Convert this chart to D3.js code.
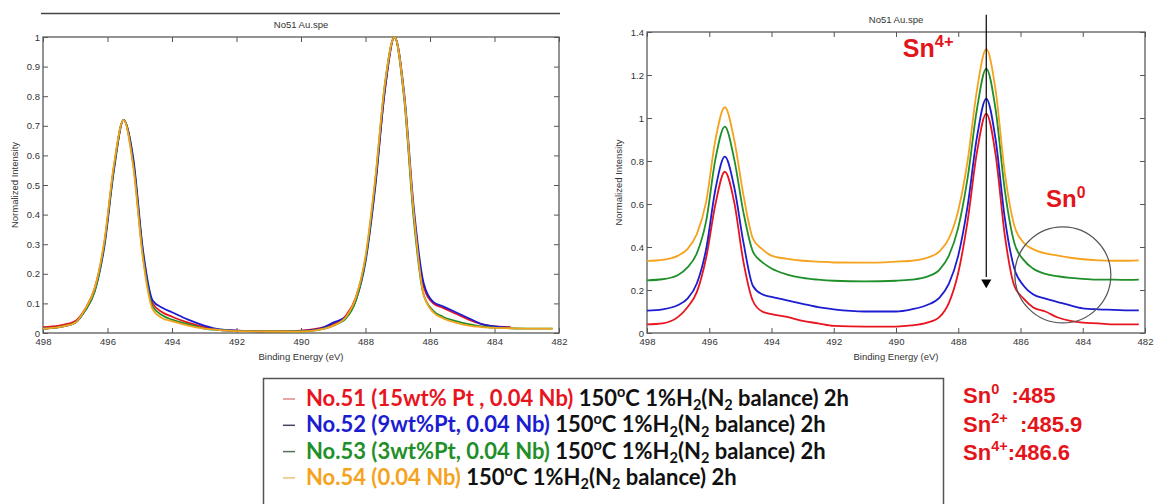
<!DOCTYPE html>
<html>
<head>
<meta charset="utf-8">
<script src="https://cdn.jsdelivr.net/npm/d3@7"></script>
<style>
  body { margin: 0; background: #fff; }
  svg text { font-family: "Liberation Sans", Arial, sans-serif; }
  .tick text { font-size: 9.5px; fill: #333; }
  .tick line { stroke: #555; }
</style>
</head>
<body>
<script>

// binding energy grid (eV), shared by every series
var energy = [498, 497.5, 497, 496.7, 496.4, 496.1, 495.8, 495.5, 495.2, 494.9,
  494.6, 494.3, 494, 493.5, 493, 492.5, 492, 491, 490, 489.5,
  489, 488.6, 488.3, 488, 487.7, 487.4, 487.1, 486.8, 486.5, 486.2,
  485.9, 485.6, 485.2, 484.8, 484.4, 484, 483.5, 483, 482.5, 482.2];

// left panel: normalized spectra
var normRed    = [.02,.025,.04,.08,.15,.3,.56,.72,.58,.27, .1,.07,.055,.035,.02,.01,.008,.005,.008,.015, .03,.06,.12,.25,.5,.82,1,.8,.4,.16, .1,.085,.065,.045,.03,.022,.02,null,null,null];
var normBlue   = [.015,.02,.035,.075,.14,.29,.55,.72,.59,.28, .11,.085,.07,.045,.025,.012,.008,.005,.007,.012, .035,.055,.11,.24,.49,.82,1,.81,.42,.17, .105,.09,.07,.05,.03,.022,.018,null,null,null];
var normGreen  = [.015,.02,.035,.075,.14,.3,.56,.72,.57,.26, .09,.06,.045,.03,.015,.01,.006,.005,.005,.01, .025,.05,.11,.25,.51,.84,1,.79,.38,.13, .075,.055,.04,.03,.022,.018,.016,.015,.015,.015];
var normOrange = [.015,.02,.035,.08,.15,.31,.57,.72,.56,.25, .08,.05,.04,.025,.015,.01,.006,.005,.005,.01, .025,.055,.12,.26,.52,.84,1,.8,.4,.13, .07,.05,.035,.025,.02,.017,.016,.015,.015,.015];

// right panel: spectra with their own background
var rawRed    = [.04,.045,.075,.12,.19,.35,.6,.75,.61,.33, .15,.1,.088,.075,.056,.045,.033,.03,.03,.035, .048,.075,.14,.28,.52,.84,1.02,.83,.45,.22, .16,.12,.1,.072,.056,.048,.045,.04,.04,.04];
var rawBlue   = [.104,.11,.13,.16,.23,.39,.67,.82,.68,.42, .22,.18,.168,.152,.136,.12,.11,.1,.1,.11, .13,.165,.23,.36,.59,.91,1.09,.9,.53,.3, .22,.18,.16,.144,.128,.115,.11,.108,.105,.105];
var rawGreen  = [.245,.25,.27,.305,.37,.52,.81,.96,.81,.56, .38,.33,.3,.272,.256,.248,.243,.24,.243,.248, .262,.295,.36,.49,.72,1.04,1.23,1.04,.66,.42, .34,.3,.275,.264,.256,.252,.248,.248,.247,.248];
var rawOrange = [.335,.34,.36,.39,.46,.61,.9,1.05,.9,.64, .44,.39,.36,.345,.336,.332,.328,.327,.332,.336, .35,.38,.44,.57,.8,1.13,1.32,1.13,.74,.5, .42,.39,.37,.36,.35,.343,.338,.336,.336,.338];

var seriesColors = ["#e8141e", "#1c1cd0", "#1f8f2a", "#f5a31e"];
var legendDash   = ["#e08a8a", "#454560", "#5a705a", "#ecc27a"];
var sampleNames  = ["No.51 (15wt% Pt , 0.04 Nb)", "No.52 (9wt%Pt, 0.04 Nb)", "No.53 (3wt%Pt, 0.04 Nb)", "No.54 (0.04 Nb)"];
var condition    = " 150^o^C 1%H_2_(N_2_ balance) 2h";
var snStates     = ["Sn^0^  :485", "Sn^2+^  :485.9", "Sn^4+^:486.6"];

var xTicks = [498, 496, 494, 492, 490, 488, 486, 484, 482];
var leftYTicks = [0, .1, .2, .3, .4, .5, .6, .7, .8, .9, 1];
var rightYTicks = [0, .2, .4, .6, .8, 1, 1.2, 1.4];

var svg = d3.select("body").append("svg")
    .attr("width", 1157)
    .attr("height", 504);

// writes "a^sup^b_sub_" as tspans
function rich(text, str, size, fill) {
  var shift = 0;
  str.split(/(\^[^^]*\^|_[^_]*_)/).forEach(function(p) {
    if (!p) return;
    var sup = p[0] == "^", sub = p[0] == "_";
    var t = (sup || sub) ? p.slice(1, -1) : p;
    var target = sup ? -0.4 * size : sub ? 0.2 * size : 0;
    text.append("tspan")
      .attr("dy", target - shift)
      .attr("fill", fill)
      .style("font-size", (sup || sub) ? (0.66 * size) + "px" : size + "px")
      .text(t);
    shift = target;
  });
}

function panel(p) {
  var x = d3.scaleLinear().domain([498, 482]).range([p.left, p.right]);
  var y = d3.scaleLinear().domain([0, p.yMax]).range([p.bottom, p.top]);
  var g = svg.append("g");

  g.append("g").attr("transform", "translate(0," + p.bottom + ")")
    .call(d3.axisBottom(x).tickValues(xTicks).tickSize(-5).tickPadding(5).tickFormat(d3.format("d")));
  g.append("g").attr("transform", "translate(0," + p.top + ")")
    .call(d3.axisTop(x).tickValues(xTicks).tickSize(-5).tickFormat(""));
  g.append("g").attr("transform", "translate(" + p.left + ",0)")
    .call(d3.axisLeft(y).tickValues(p.yTicks).tickSize(-5).tickPadding(3).tickFormat(d3.format("~g")));
  g.append("g").attr("transform", "translate(" + p.right + ",0)")
    .call(d3.axisRight(y).tickValues(p.yTicks).tickSize(-5).tickFormat(""));
  g.selectAll(".domain").remove();

  g.append("rect")
    .attr("x", p.left).attr("y", p.top)
    .attr("width", p.right - p.left).attr("height", p.bottom - p.top)
    .attr("fill", "none").attr("stroke", "#5a5a5a").attr("stroke-width", 1.3);

  var clipId = "clip" + p.left;
  svg.append("clipPath").attr("id", clipId).append("rect")
    .attr("x", p.left).attr("y", p.top - 2)
    .attr("width", p.right - p.left).attr("height", p.bottom - p.top + 2);

  var line = d3.line()
    .defined(function(d) { return d[1] != null; })
    .x(function(d) { return x(d[0]); })
    .y(function(d) { return y(d[1]); })
    .curve(d3.curveMonotoneX);

  g.append("g").attr("clip-path", "url(#" + clipId + ")")
    .selectAll("path")
    .data(p.series)
    .enter().append("path")
    .attr("d", function(s) { return line(energy.map(function(e, i) { return [e, s[i]]; })); })
    .attr("fill", "none")
    .attr("stroke", function(s, i) { return seriesColors[i]; })
    .attr("stroke-width", 1.8);

  var cx = (p.left + p.right) / 2;
  g.append("text").attr("x", cx).attr("y", p.top - 9)
    .attr("text-anchor", "middle").style("font-size", "9.5px").attr("fill", "#333")
    .text("No51 Au.spe");
  g.append("text").attr("x", cx).attr("y", p.bottom + 27)
    .attr("text-anchor", "middle").style("font-size", "9.5px").attr("fill", "#333")
    .text("Binding Energy (eV)");
  g.append("text")
    .attr("transform", "translate(" + (p.left - 25) + "," + ((p.top + p.bottom) / 2) + ") rotate(-90)")
    .attr("text-anchor", "middle").style("font-size", "9.5px").attr("fill", "#333")
    .text("Normalized Intensity");

  return {x: x, y: y, g: g};
}

// slide rule above the left panel
svg.append("line").attr("x1", 41).attr("x2", 560).attr("y1", 13.5).attr("y2", 13.5)
  .attr("stroke", "#444").attr("stroke-width", 1.5);

panel({left: 43, right: 559, top: 37, bottom: 333, yMax: 1, yTicks: leftYTicks,
       series: [normRed, normBlue, normGreen, normOrange]});

var R = panel({left: 647, right: 1145, top: 32, bottom: 333, yMax: 1.4, yTicks: rightYTicks,
       series: [rawRed, rawBlue, rawGreen, rawOrange]});

// annotations on the right panel
var snRed = "#e3151b";
R.g.append("line")
  .attr("x1", R.x(487.1)).attr("x2", R.x(487.1))
  .attr("y1", R.y(1.48)).attr("y2", R.y(0.26))
  .attr("stroke", "#000").attr("stroke-width", 1.2);
R.g.append("path")
  .attr("d", d3.symbol().type(d3.symbolTriangle).size(45))
  .attr("transform", "translate(" + R.x(487.1) + "," + R.y(0.235) + ") rotate(180)")
  .attr("fill", "#000");
R.g.append("circle")
  .attr("cx", R.x(484.64)).attr("cy", R.y(0.27)).attr("r", 48)
  .attr("fill", "none").attr("stroke", "#555").attr("stroke-width", 1.2);

var t4 = R.g.append("text").attr("x", R.x(489.78)).attr("y", R.y(1.285))
  .style("font-weight", "bold");
rich(t4, "Sn^4+^", 25, snRed);
var t0 = R.g.append("text").attr("x", R.x(485.18)).attr("y", R.y(0.585))
  .style("font-weight", "bold");
rich(t0, "Sn^0^", 24, snRed);

// legend box
var lg = svg.append("g");
lg.append("rect").attr("x", 263.5).attr("y", 378.5).attr("width", 680).attr("height", 140)
  .attr("fill", "none").attr("stroke", "#555").attr("stroke-width", 1.5);

sampleNames.forEach(function(name, i) {
  var yy = 406 + i * 26.3;
  lg.append("line").attr("x1", 283).attr("x2", 295).attr("y1", yy - 7).attr("y2", yy - 7)
    .attr("stroke", legendDash[i]).attr("stroke-width", 1.5);
  var t = lg.append("text").attr("x", 306).attr("y", yy)
    .style("font-family", "Lato, sans-serif").style("font-weight", "bold");
  rich(t, name, 22, seriesColors[i]);
  rich(t, condition, 22, "#111");
});

snStates.forEach(function(s, i) {
  var t = svg.append("text").attr("x", 963).attr("y", 403 + i * 28.5)
    .style("font-weight", "bold").style("white-space", "pre");
  rich(t, s, 22, snRed);
});

</script>
</body>
</html>
